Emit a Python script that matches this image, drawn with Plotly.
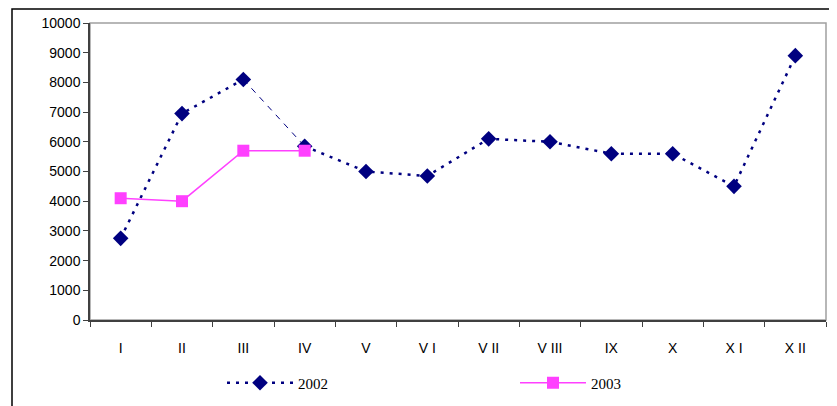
import plotly.graph_objects as go

months = ["I", "II", "III", "IV", "V", "V I", "V II", "V III", "IX", "X", "X I", "X II"]
sales_2002 = [2750, 6950, 8100, 5850, 5000, 4850, 6100, 6000, 5600, 5600, 4500, 8900]
sales_2003 = [4100, 4000, 5700, 5700]
y_ticks = list(range(0, 10001, 1000))
y_ticktext = [str(v) for v in y_ticks]

navy = "#000080"
magenta = "#FF40FF"

fig = go.Figure()
# 2002 line segments (III-IV drawn thinner as in reference)
fig.add_trace(go.Scatter(x=months[0:3], y=sales_2002[0:3], mode="lines",
                         line=dict(color=navy, width=2.5, dash="3px,6px"),
                         showlegend=False, hoverinfo="skip"))
fig.add_trace(go.Scatter(x=months[2:4], y=sales_2002[2:4], mode="lines",
                         line=dict(color=navy, width=1, dash="6px,6px"),
                         showlegend=False, hoverinfo="skip"))
fig.add_trace(go.Scatter(x=months[3:], y=sales_2002[3:], mode="lines",
                         line=dict(color=navy, width=2.5, dash="3px,6px"),
                         showlegend=False, hoverinfo="skip"))
fig.add_trace(go.Scatter(x=months, y=sales_2002, mode="markers", name="2002",
                         marker=dict(symbol="diamond", size=12, color=navy),
                         showlegend=False))
# legend proxy for 2002
fig.add_trace(go.Scatter(x=[None], y=[None], mode="lines+markers", name="2002",
                         line=dict(color=navy, width=2.5, dash="3px,6px"),
                         marker=dict(symbol="diamond", size=12, color=navy)))
fig.add_trace(go.Scatter(x=months[:4], y=sales_2003, mode="lines+markers", name="2003",
                         line=dict(color=magenta, width=1.5),
                         marker=dict(symbol="square", size=12, color=magenta)))

# page has an 8px body margin, so positions are offset by 8
OFF = 8
W, H = 837, 406
L, T = 90 - OFF, 23 - OFF
R = W - (826 - OFF)
B = H - (320 - OFF)
pw, ph = W - L - R, H - T - B

def px(x):
    return (x - OFF - L) / pw

def py(y):
    return (H - B - (y - OFF)) / ph

fig.update_layout(
    width=W, height=H,
    margin=dict(l=L, r=R, t=T, b=B, autoexpand=False),
    paper_bgcolor="white", plot_bgcolor="white",
    font=dict(family="Liberation Sans, Arial", size=14, color="black"),
    legend=dict(orientation="h", x=px(222), y=py(383), yanchor="middle", xanchor="left",
                itemwidth=66, entrywidth=212, entrywidthmode="pixels",
                font=dict(family="Liberation Serif, Times New Roman", size=15, color="black"),
                bgcolor="rgba(0,0,0,0)", traceorder="normal"),
    shapes=[
        dict(type="rect", xref="paper", yref="paper", x0=0, x1=1, y0=0, y1=1,
             line=dict(color="#A0A0A0", width=1.5), layer="below"),
        dict(type="rect", xref="paper", yref="paper", x0=px(12), x1=px(846), y0=py(420), y1=py(9),
             line=dict(color="black", width=1.5)),
    ],
)
fig.update_xaxes(type="category", categoryorder="array", categoryarray=months,
                 range=[-0.5, 11.5], showgrid=False, showline=True, linecolor="#404040", linewidth=1.5,
                 ticks="outside", tickson="boundaries", ticklen=5, tickcolor="#404040",
                 ticklabelstandoff=14, zeroline=False, automargin=False)
fig.update_yaxes(range=[0, 10000], tickvals=y_ticks, ticktext=y_ticktext, showgrid=False, showline=True,
                 linecolor="#404040", linewidth=1.5, ticks="outside", ticklen=5,
                 tickcolor="#404040", zeroline=False, automargin=False)

fig.write_html("out.html")
